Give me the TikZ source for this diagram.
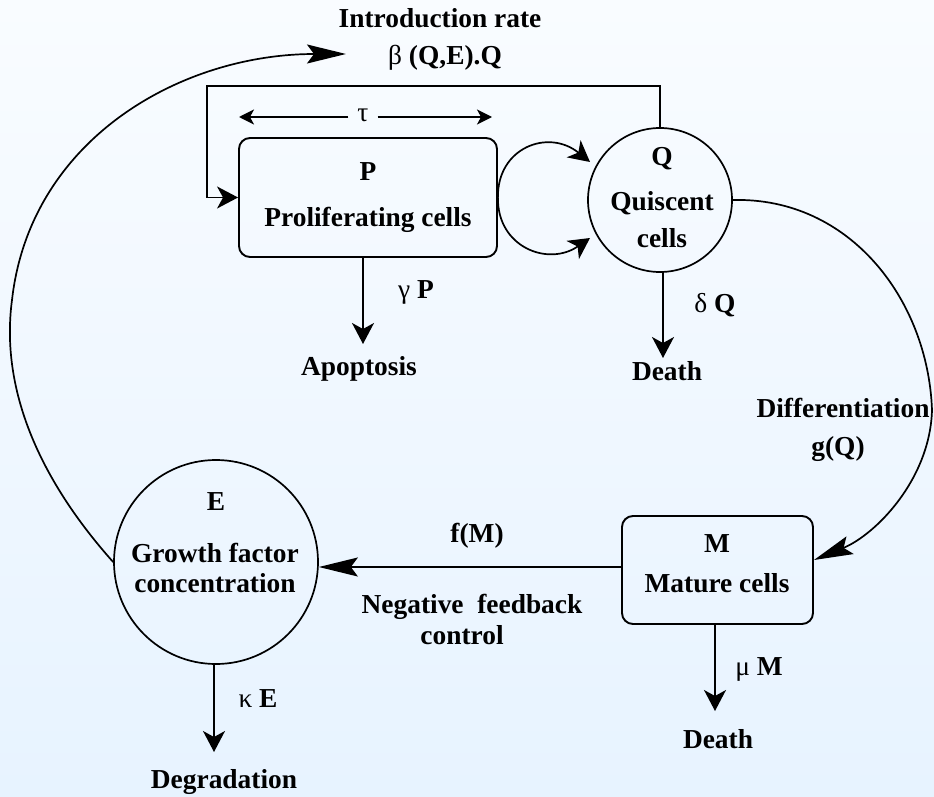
\documentclass[tikz,border=0pt]{standalone}
\usepackage{fontspec}
\setmainfont{Liberation Serif}
\usetikzlibrary{arrows.meta}
\definecolor{bgtop}{RGB}{249,252,255}
\definecolor{bgbot}{RGB}{231,243,255}
\begin{document}
\begin{tikzpicture}[x=1pt,y=-1pt,
  every node/.style={font=\fontsize{27.4}{32}\selectfont\bfseries},
  lbl/.style={anchor=base, inner sep=0pt},
  shapebox/.style={draw, line width=1.9pt, rounded corners=11pt, inner sep=0pt},
  circ/.style={draw, circle, line width=1.7pt, inner sep=0pt},
  conn/.style={line width=1.7pt},
  bigtip/.style={-{Stealth[length=39pt,width=19pt,inset=7pt]}},
  midtip/.style={-{Stealth[length=21pt,width=22pt,inset=6pt]}},
  smalltip/.style={-{Stealth[length=15pt,width=15pt,inset=4pt]}},
]
\shade[top color=bgtop, bottom color=bgbot] (0,0) rectangle (934,797);
\useasboundingbox (0,0) rectangle (934,797);

% main shapes
\node[shapebox, minimum width=258pt, minimum height=119pt] (P) at (368,197.5) {};
\node[shapebox, minimum width=191pt, minimum height=108pt] (M) at (717.5,570) {};
\node[circ, minimum size=144pt] (Q) at (660,200) {};
\node[circ, minimum size=204pt] (E) at (216,562) {};

% texts inside shapes
\node[lbl] (Pl) at (368,180) {P};
\node[lbl] (Pt) at (368,226) {Proliferating cells};
\node[lbl] (Ql) at (662,165) {Q};
\node[lbl] (Qt1) at (662,210) {Quiscent};
\node[lbl] (Qt2) at (662,247) {cells};
\node[lbl] (Ml) at (717,552) {M};
\node[lbl] (Mt) at (717,592) {Mature cells};
\node[lbl] (El) at (216,510) {E};
\node[lbl] (Et1) at (215,562) {Growth factor};
\node[lbl] (Et2) at (215,592) {concentration};

% other labels
\node[lbl] (intro1) at (440,28) {Introduction rate};
\node[lbl] (intro2) at (445,65) {{\mdseries β} (Q,E).Q};
\node[lbl, inner xsep=9pt] (tau) at (363,122) {\mdseries τ};
\node[lbl] (gP) at (416,298) {{\mdseries γ} P};
\node[lbl] (apo) at (359,375) {Apoptosis};
\node[lbl] (dQ) at (715,312) {{\mdseries δ} Q};
\node[lbl] (death1) at (667,380) {Death};
\node[lbl] (diff1) at (843,417) {Differentiation};
\node[lbl] (diff2) at (838,455) {g(Q)};
\node[lbl] (fM) at (477,542) {f(M)};
\node[lbl] (neg1) at (472,613) {Negative\ \ feedback};
\node[lbl] (neg2) at (462,644) {control};
\node[lbl] (mM) at (759,675) {{\mdseries μ} M};
\node[lbl] (death2) at (718,748) {Death};
\node[lbl] (kE) at (258,707) {{\mdseries κ} E};
\node[lbl] (degr) at (224,788) {Degradation};

% coordinates for free ends
\coordinate (taul) at (239,117);
\coordinate (taur) at (492,117);
\coordinate (fbc) at (207,86);
\coordinate (introtip) at (346,54);
\coordinate (lq1) at (590,162);
\coordinate (lq2) at (590,238);
\coordinate (apt) at (363,344);
\coordinate (dqt) at (663,358);
\coordinate (dmt) at (715,711);
\coordinate (det) at (214,752);

% tau arrows
\draw[conn, smalltip] (tau.west |- taul) -- (taul);
\draw[conn, smalltip] (tau.east |- taur) -- (taur);

% feedback Q -> P
\draw[conn, midtip] (Q.north) |- (fbc) |- (P.west);

% P <-> Q loop
\draw[conn, midtip] (P.east) .. controls (497,148) and (548,128) .. (lq1);
\draw[conn, midtip] (P.east) .. controls (497,247) and (548,267) .. (lq2);

% decay arrows
\draw[conn, midtip] (P.south -| apt) -- (apt);
\draw[conn, midtip] (Q.south -| dqt) -- (dqt);
\draw[conn, midtip] (M.south -| dmt) -- (dmt);
\draw[conn, midtip] (E.south -| det) -- (det);

% differentiation
\draw[conn, bigtip] (Q.east) .. controls (850,197) and (928,300) .. (932,410)
  .. controls (930,480) and (875,535) .. ([yshift=10pt]M.east);

% negative feedback
\draw[conn, bigtip] ([yshift=3pt]M.west) -- ([yshift=3pt]M.west -| E.east);

% introduction
\draw[conn, bigtip] (E.west) .. controls (40,480) and (0,390) .. (12,300)
  .. controls (30,140) and (180,54) .. (introtip);
\end{tikzpicture}
\end{document}
